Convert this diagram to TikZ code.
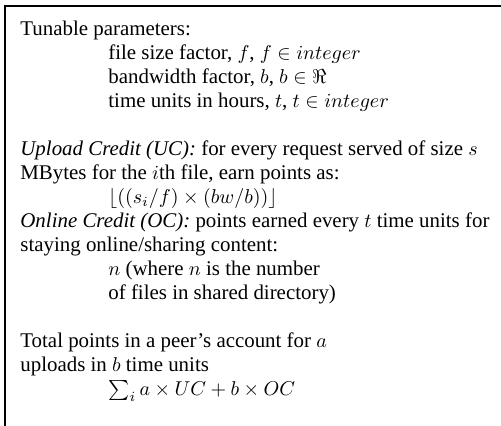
\documentclass[tikz,border=0pt]{standalone}
\usepackage{fontspec}
\setmainfont{Liberation Serif}
\usepackage{tikz}
\tikzset{entry/.style={anchor=base west,inner sep=0pt,
    font=\fontsize{10.45}{12}\selectfont}}
\begin{document}
\begin{tikzpicture}[x=0.5pt,y=-0.5pt]
  % Configurable parameters
  \def\lmarg{20}
  \def\tab{108}
  \def\first{35}
  \def\skipline{24}
  %
  \useasboundingbox (0,0) rectangle (501,425);
  %
  % Frame (open to the right and bottom)
  \draw[line width=1pt] (5,426) -- (5,6) -- (502,6);
  %
  % Tunable parameters
  \node[entry] (tun) at (\lmarg,{\first+0*\skipline}) {Tunable parameters:};
  \node[entry] (fsize) at (\tab,{\first+1*\skipline})
    {file size factor, $f$, $f \in integer$};
  \node[entry] (bwidth) at (\tab,{\first+2*\skipline})
    {bandwidth factor, $b$, $b \in \Re$};
  \node[entry] (tunit) at (\tab,{\first+3*\skipline})
    {time units in hours, $t$, $t \in integer$};
  %
  % Upload credit
  \node[entry] (uc) at (\lmarg,{\first+5*\skipline})
    {\textit{Upload Credit (UC):} for every request served of size $s$};
  \node[entry] (ucmore) at (\lmarg,{\first+6*\skipline})
    {MBytes for the $i$th file, earn points as:};
  \node[entry] (ucform) at (\tab,{\first+7*\skipline})
    {$\lfloor((s_i/f)\times(bw/b))\rfloor$};
  %
  % Online credit
  \node[entry] (oc) at (\lmarg,{\first+8*\skipline})
    {\textit{Online Credit (OC):} points earned every $t$ time units for};
  \node[entry] (ocmore) at (\lmarg,{\first+9*\skipline})
    {staying online/sharing content:};
  \node[entry] (ocform) at (\tab,{\first+10*\skipline})
    {$n$ (where $n$ is the number};
  \node[entry] (ocnote) at (\tab,{\first+11*\skipline})
    {of files in shared directory)};
  %
  % Total
  \node[entry] (tot) at (\lmarg,{\first+13*\skipline})
    {Total points in a peer's account for $a$};
  \node[entry] (totmore) at (\lmarg,{\first+14*\skipline})
    {uploads in $b$ time units};
  \node[entry] (totform) at (\tab,{\first+15*\skipline})
    {$\sum_i a\times UC + b\times OC$};
  %
\end{tikzpicture}
\end{document}
